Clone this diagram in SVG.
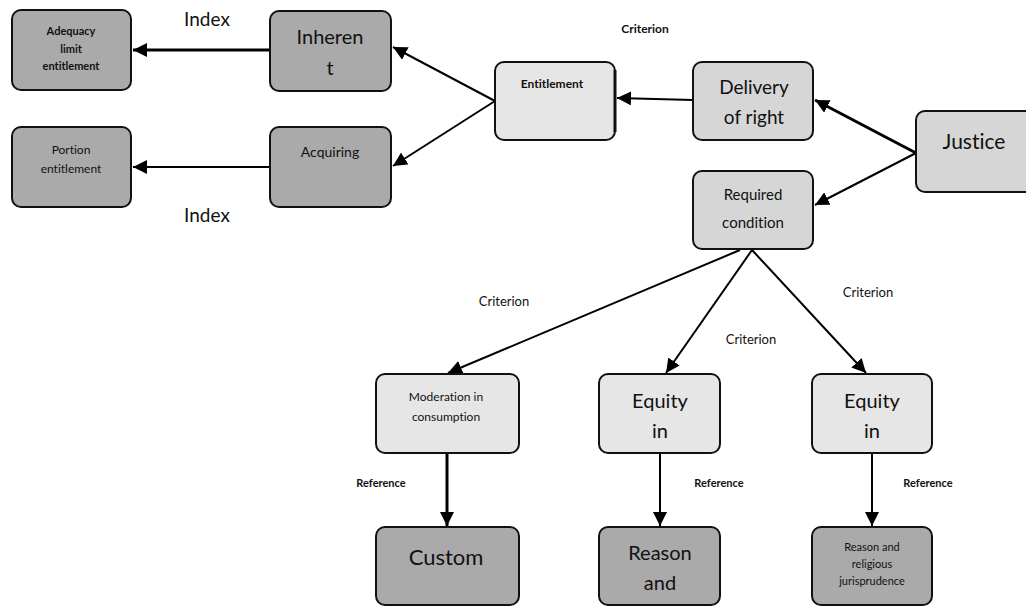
<svg xmlns="http://www.w3.org/2000/svg" width="1026" height="606" viewBox="0 0 1026 606">
<style>
text{font-family:Lato,"Open Sans","Liberation Sans",sans-serif;fill:#111;text-anchor:middle;font-variant-ligatures:none}
.box{stroke:#111;stroke-width:2}
.dark{fill:#aaaaaa}
.mid{fill:#d6d6d6}
.light{fill:#e6e6e6}
.ln{stroke:#000;stroke-width:2;fill:none}
.thick{stroke-width:3}
.b{font-weight:bold}
</style>
<defs>
<marker id="ah" markerUnits="userSpaceOnUse" markerWidth="16" markerHeight="14" refX="14" refY="7" orient="auto">
<path d="M0,0 L14,7 L0,14 Z" fill="#000"/>
</marker>
</defs>
<g id="connectors">
<line class="ln thick" x1="270" y1="50" x2="133" y2="50" marker-end="url(#ah)"/>
<line class="ln" x1="270" y1="167" x2="133" y2="167" marker-end="url(#ah)"/>
<line class="ln" x1="495" y1="101" x2="393" y2="47" marker-end="url(#ah)"/>
<line class="ln" x1="495" y1="101" x2="393" y2="166" marker-end="url(#ah)"/>
<line class="ln" x1="693" y1="100" x2="617" y2="98" marker-end="url(#ah)"/>
<line class="ln thick" x1="916" y1="153" x2="815" y2="100" marker-end="url(#ah)"/>
<line class="ln" x1="916" y1="153" x2="815" y2="205" marker-end="url(#ah)"/>
<line class="ln" x1="740" y1="250" x2="448" y2="373" marker-end="url(#ah)"/>
<line class="ln" x1="752" y1="250" x2="666" y2="373" marker-end="url(#ah)"/>
<line class="ln" x1="752" y1="250" x2="866" y2="373" marker-end="url(#ah)"/>
<line class="ln thick" x1="447" y1="453" x2="447" y2="526" marker-end="url(#ah)"/>
<line class="ln" x1="660" y1="453" x2="660" y2="526" marker-end="url(#ah)"/>
<line class="ln" x1="872" y1="453" x2="872" y2="526" marker-end="url(#ah)"/>
</g>
<g id="labels">
<text x="207" y="26" font-size="19">Index</text>
<text x="207" y="222" font-size="19">Index</text>
<text x="645" y="33" font-size="12" class="b">Criterion</text>
<text x="504" y="306" font-size="13">Criterion</text>
<text x="751" y="344" font-size="13">Criterion</text>
<text x="868" y="297" font-size="13">Criterion</text>
<text x="381" y="487" font-size="11" class="b">Reference</text>
<text x="719" y="487" font-size="11" class="b">Reference</text>
<text x="928" y="487" font-size="11" class="b">Reference</text>
</g>
<g id="adequacy">
<rect class="box dark" x="12" y="10" width="119" height="80" rx="9"/>
<text x="71" y="35" font-size="11" class="b">Adequacy</text>
<text x="71" y="53" font-size="11" class="b">limit</text>
<text x="71" y="70" font-size="11" class="b">entitlement</text>
</g>
<g id="portion">
<rect class="box dark" x="12" y="127" width="119" height="80" rx="9"/>
<text x="71" y="154" font-size="12">Portion</text>
<text x="71" y="173" font-size="12">entitlement</text>
</g>
<g id="inherent">
<rect class="box dark" x="270" y="11" width="121" height="80" rx="9"/>
<text x="330" y="44" font-size="20">Inheren</text>
<text x="330" y="75" font-size="20">t</text>
</g>
<g id="acquiring">
<rect class="box dark" x="270" y="127" width="121" height="80" rx="9"/>
<text x="330" y="157" font-size="14">Acquiring</text>
</g>
<g id="entitlement">
<rect class="box light" x="495" y="62" width="120" height="78" rx="9"/>
<line x1="615" y1="70" x2="615" y2="132" stroke="#111" stroke-width="3"/>
<text x="552" y="88" font-size="12" class="b">Entitlement</text>
</g>
<g id="delivery">
<rect class="box mid" x="693" y="62" width="120" height="78" rx="9"/>
<text x="754" y="94" font-size="19">Delivery</text>
<text x="754" y="124" font-size="19">of right</text>
</g>
<g id="justice">
<rect class="box mid" x="916" y="111" width="120" height="81" rx="9"/>
<text x="974" y="149" font-size="21">Justice</text>
</g>
<g id="required">
<rect class="box mid" x="693" y="171" width="120" height="78" rx="9"/>
<text x="753" y="200" font-size="15">Required</text>
<text x="753" y="228" font-size="15">condition</text>
</g>
<g id="moderation">
<rect class="box light" x="376" y="374" width="143" height="79" rx="9"/>
<text x="446" y="401" font-size="12">Moderation in</text>
<text x="446" y="421" font-size="12">consumption</text>
</g>
<g id="equity1">
<rect class="box light" x="599" y="374" width="121" height="79" rx="9"/>
<text x="660" y="408" font-size="20">Equity</text>
<text x="660" y="438" font-size="20">in</text>
</g>
<g id="equity2">
<rect class="box light" x="812" y="374" width="120" height="79" rx="9"/>
<text x="872" y="408" font-size="20">Equity</text>
<text x="872" y="438" font-size="20">in</text>
</g>
<g id="custom">
<rect class="box dark" x="376" y="527" width="143" height="78" rx="9"/>
<text x="446" y="565" font-size="22">Custom</text>
</g>
<g id="reason1">
<rect class="box dark" x="599" y="527" width="121" height="78" rx="9"/>
<text x="660" y="560" font-size="20">Reason</text>
<text x="660" y="590" font-size="20">and</text>
</g>
<g id="reason2">
<rect class="box dark" x="812" y="527" width="120" height="78" rx="9"/>
<text x="872" y="551" font-size="11">Reason and</text>
<text x="872" y="568" font-size="11">religious</text>
<text x="872" y="585" font-size="11">jurisprudence</text>
</g>
</svg>
